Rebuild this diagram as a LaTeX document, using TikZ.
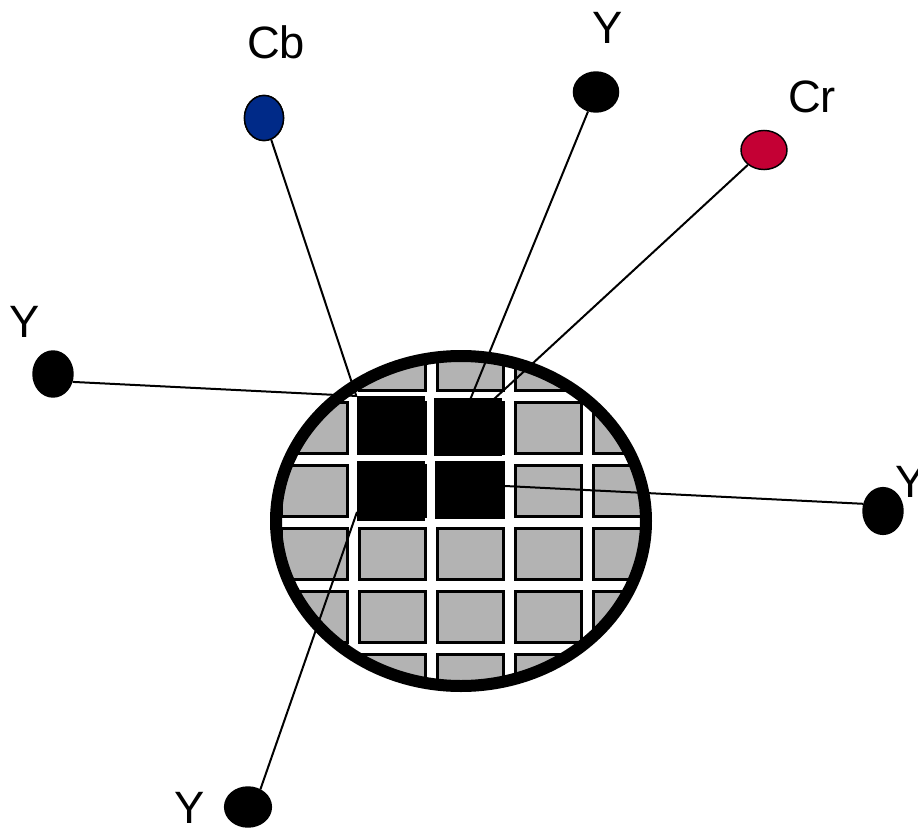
\documentclass[tikz,border=0pt]{standalone}
\usepackage{fontspec}
\setmainfont{Liberation Sans}
\usetikzlibrary{shapes.geometric}
\definecolor{cellgray}{HTML}{B3B3B3}
\definecolor{cbblue}{HTML}{002A88}
\definecolor{crred}{HTML}{C40034}
\begin{document}
\begin{tikzpicture}[x=0.75pt,y=-0.75pt,
  cellbox/.style={draw=black, line width=2.25pt, fill=cellgray},
  blackcell/.style={fill=black},
  ring/.style={draw=black, line width=9pt},
  dot/.style={ellipse, draw=black, line width=1.1pt, inner sep=0pt, fill=black},
  lbl/.style={font=\fontsize{34}{40}\selectfont, inner sep=0pt},
  wire/.style={draw=black, line width=1.5pt}]
\useasboundingbox (0,0) rectangle (918,828);
\fill[white] (0,0) rectangle (918,828);
% grid of cells inside the lens
\begin{scope}
  \clip (461,521) ellipse [x radius=185, y radius=165];
  \foreach \c in {0,...,4} {
    \foreach \r in {0,...,5} {
      \filldraw[cellbox] ({281+78*\c},{339+63*\r}) rectangle ++(66,51);
    }
  }
  \fill[blackcell] (357,396) rectangle (425,455);
  \fill[blackcell] (434,398) rectangle (502,456);
  \fill[blackcell] (357,461) rectangle (425,521);
  \fill[blackcell] (435,461) rectangle (505,519);
\end{scope}
\draw[ring] (461,521) ellipse [x radius=185, y radius=165];
% end points on the black cells
\coordinate (ecb) at (356,395);
\coordinate (eyl) at (357,396);
\coordinate (eyt) at (470,400);
\coordinate (ecr) at (493,400);
\coordinate (eyr) at (505,486);
\coordinate (eyb) at (357,512);
% sample dots
\node[dot, fill=cbblue, minimum width=29.3pt, minimum height=33.8pt] (cb) at (264,118) {};
\node[dot, minimum width=33.8pt, minimum height=30pt] (yt) at (596,92) {};
\node[dot, fill=crred, minimum width=34.5pt, minimum height=29.3pt] (cr) at (764,150) {};
\node[dot, minimum width=30pt, minimum height=34.5pt] (yl) at (53,374) {};
\node[dot, minimum width=30pt, minimum height=35pt] (yr) at (883,511) {};
\node[dot, minimum width=35pt, minimum height=30pt] (yb) at (248,807) {};
% connectors
\draw[wire] (cb) -- (ecb);
\draw[wire] (yt) -- (eyt);
\draw[wire] (cr) -- (ecr);
\draw[wire] (yl.-22) -- (eyl);
\draw[wire] (yr.160) -- (eyr);
\draw[wire] (yb.55) -- (eyb);
% redraw dots on top of wire ends
\node[dot, fill=cbblue, minimum width=29.3pt, minimum height=33.8pt] at (cb) {};
% labels
\node[lbl] (lcb) at (276,42) {Cb};
\node[lbl] (lyt) at (608,28) {Y};
\node[lbl] (lcr) at (812,97) {Cr};
\node[lbl] (lyl) at (25,322) {Y};
\node[lbl] (lyr) at (911,482) {Y};
\node[lbl] (lyb) at (190,808) {Y};
\end{tikzpicture}
\end{document}
